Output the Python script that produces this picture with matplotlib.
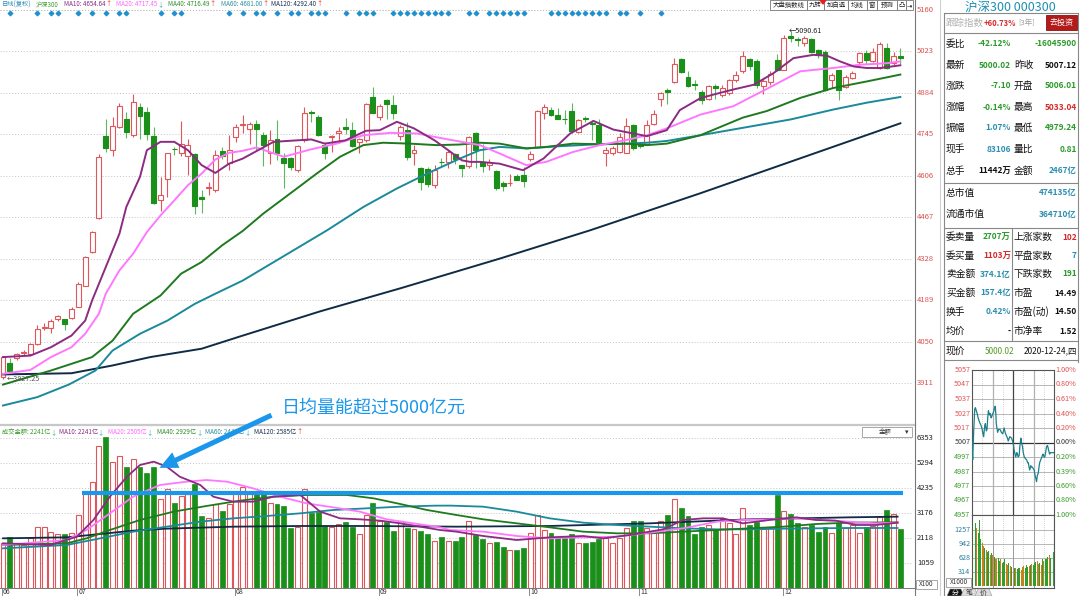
import matplotlib
matplotlib.use('Agg')
import matplotlib.pyplot as plt
from matplotlib.patches import Rectangle, FancyArrowPatch, Polygon

plt.rcParams['font.family'] = ['Noto Sans CJK SC', 'DejaVu Sans']

# 沪深300 daily bars, 2020-06-12 .. 2020-12-24
opens = [3932, 3978, 3997, 4013, 4010, 4043, 4097, 4097, 4126, 4126,
         4129, 4168, 4238, 4350, 4465, 4738, 4693, 4769, 4795, 4741,
         4834, 4819, 4739, 4523, 4596, 4696, 4682, 4671, 4678, 4535,
         4563, 4559, 4689, 4648, 4736, 4776, 4762, 4777, 4741, 4682,
         4728, 4665, 4666, 4626, 4724, 4819, 4803, 4708, 4735, 4747,
         4767, 4760, 4719, 4724, 4870, 4802, 4858, 4842, 4738, 4758,
         4683, 4633, 4629, 4573, 4653, 4652, 4678, 4641, 4637, 4749,
         4652, 4641, 4622, 4582, 4581, 4606, 4607, 4663, 4702, 4814,
         4827, 4808, 4796, 4822, 4752, 4800, 4781, 4775, 4682, 4680,
         4685, 4682, 4775, 4710, 4713, 4780, 4861, 4894, 4918, 4995,
         4937, 4914, 4886, 4862, 4906, 4877, 4881, 4927, 4955, 4996,
         4991, 4907, 4918, 4994, 4960, 5073, 5062, 5049, 5062, 5027,
         5021, 4927, 4958, 4903, 4933, 4985, 5016, 4988, 4966, 5032,
         4982, 5006.01]
highs = [4003, 3996, 4013, 4022, 4046, 4107, 4112, 4125, 4141, 4128,
         4165, 4250, 4337, 4420, 4678, 4794, 4803, 4850, 4819, 4879,
         4850, 4836, 4769, 4601, 4681, 4702, 4789, 4730, 4680, 4557,
         4585, 4691, 4702, 4741, 4777, 4808, 4786, 4791, 4752, 4758,
         4791, 4680, 4669, 4708, 4836, 4825, 4808, 4719, 4741, 4769,
         4800, 4786, 4733, 4850, 4901, 4847, 4861, 4875, 4775, 4786,
         4708, 4635, 4635, 4641, 4666, 4691, 4682, 4641, 4740, 4752,
         4713, 4663, 4624, 4588, 4611, 4613, 4635, 4689, 4825, 4845,
         4836, 4833, 4825, 4850, 4797, 4805, 4792, 4797, 4702, 4704,
         4749, 4800, 4778, 4713, 4791, 4825, 4886, 4898, 4998, 4998,
         4957, 4925, 4893, 4910, 4911, 4910, 4930, 4955, 5022, 5000,
         4995, 4932, 4955, 5012, 5075, 5090.61, 5070, 5072, 5068, 5030,
         5025, 4950, 4960, 4941, 4955, 5020, 5025, 5033, 5052, 5050,
         5020, 5033.04]
lows = [3927.25, 3950, 3990, 4003, 4005, 4040, 4090, 4080, 4120, 4090,
        4127, 4165, 4236, 4348, 4460, 4685, 4671, 4765, 4733, 4735,
        4727, 4724, 4512, 4487, 4535, 4674, 4671, 4607, 4479, 4481,
        4540, 4551, 4663, 4624, 4719, 4747, 4711, 4691, 4637, 4646,
        4657, 4565, 4624, 4618, 4719, 4786, 4738, 4663, 4685, 4716,
        4744, 4702, 4680, 4719, 4814, 4791, 4797, 4797, 4724, 4657,
        4641, 4557, 4568, 4563, 4635, 4630, 4646, 4602, 4630, 4630,
        4618, 4624, 4559, 4555, 4570, 4590, 4568, 4655, 4700, 4797,
        4805, 4794, 4778, 4747, 4749, 4786, 4725, 4713, 4637, 4674,
        4680, 4680, 4693, 4697, 4711, 4775, 4838, 4847, 4917, 4948,
        4903, 4892, 4845, 4858, 4861, 4870, 4876, 4920, 4950, 4960,
        4900, 4880, 4910, 4955, 4958, 5052, 5040, 5040, 5015, 5000,
        4888, 4900, 4860, 4898, 4928, 4970, 4980, 4985, 4962, 4962,
        4975, 4979.24]
closes = [3999, 3954, 4010, 4016, 4043, 4093, 4100, 4121, 4137, 4108,
          4160, 4244, 4334, 4417, 4669, 4697, 4771, 4838, 4752, 4852,
          4806, 4745, 4515, 4542, 4680, 4694, 4711, 4710, 4504, 4528,
          4567, 4676, 4671, 4693, 4769, 4778, 4777, 4762, 4708, 4724,
          4682, 4649, 4635, 4704, 4814, 4815, 4741, 4680, 4737, 4755,
          4761, 4705, 4730, 4844, 4816, 4839, 4844, 4817, 4767, 4669,
          4693, 4585, 4579, 4626, 4652, 4685, 4660, 4633, 4736, 4691,
          4637, 4652, 4563, 4570, 4582, 4593, 4587, 4677, 4822, 4836,
          4808, 4797, 4795, 4756, 4791, 4794, 4779, 4719, 4691, 4697,
          4736, 4771, 4697, 4704, 4775, 4812, 4883, 4886, 4981, 4953,
          4905, 4909, 4858, 4905, 4900, 4899, 4927, 4944, 5007, 4974,
          4910, 4922, 4947, 4960, 5066, 5065, 5058, 5066, 5021, 5010,
          4892, 4944, 4892, 4936, 4949, 5016, 4994, 5021, 5047, 4966,
          5007.12, 5000.02]
# 成交金额 (亿)
amounts = [1920, 2146, 1920, 1822, 2104, 2570, 2598, 2386, 2288, 2288,
           2316, 3092, 4010, 4504, 6015, 6382, 5352, 5592, 5140, 5450,
           5140, 4886, 5140, 3756, 4180, 3587, 3897, 3982, 4406, 3050,
           2951, 3558, 3276, 3558, 4010, 4293, 4081, 4010, 4038, 3615,
           3558, 3474, 2528, 2570, 4180, 3191, 3234, 2627, 2598, 2711,
           2810, 2570, 2288, 3092, 3615, 2852, 2810, 2429, 2852, 2528,
           2485, 2429, 2288, 2005, 2146, 2005, 2005, 2175, 2852, 2245,
           2062, 1920, 1935, 1723, 1610, 1610, 1680, 2316, 3092, 2457,
           2316, 2175, 2146, 2288, 1892, 1920, 1963, 2062, 2104, 1892,
           2104, 2528, 2852, 2852, 2528, 2316, 2852, 3092, 3756, 3375,
           3050, 2288, 2570, 2669, 2485, 2909, 2768, 2288, 3375, 2669,
           2810, 2528, 2598, 3940, 3276, 3135, 2768, 2598, 2669, 2386,
           2598, 2316, 2739, 2528, 2669, 2316, 2598, 2627, 2993, 3304,
           3135, 2499]

month_labels = ['06', '07', '08', '09', '10', '11', '12']
month_start = [0, 11, 34, 55, 77, 93, 114]
price_ticks = [5160, 5023, 4884, 4745, 4606, 4467, 4328, 4189, 4050, 3911]
amount_ticks = [6353, 5294, 4235, 3176, 2118, 1059]
signal_days = [1, 5, 7, 8, 11, 13, 15, 17, 18, 23, 25, 26, 33, 35, 37, 38, 40, 42, 43,
               45, 46, 47, 50, 52, 53, 54, 57, 58, 59, 60, 61, 62, 63, 64, 65, 68, 69,
               71, 72, 73, 74, 75, 76, 80, 81, 82, 83, 84, 85, 86, 87, 88, 90, 91, 93, 96]

# moving averages (bar index, value)
ma10_x = [0, 4, 7, 10, 12, 13, 15, 17, 18, 20, 21, 23, 25, 27, 29, 31, 33, 35, 39.5, 45,
          47, 50, 53, 55, 57.5, 60, 63, 65, 67, 68.2, 69.6, 72.5, 75.9, 78.9, 82.8, 86.2,
          89.1, 92, 94, 96.9, 98.8, 101.8, 103.7, 106.6, 109.6, 112.5, 115.4, 118.3,
          120.3, 122.2, 124.2, 126.1, 128.1, 131]
ma10_y = [3999, 4004, 4032, 4071, 4121, 4188, 4300, 4412, 4501, 4602, 4691, 4719, 4719,
          4691, 4641, 4615, 4646, 4663, 4719, 4727, 4713, 4724, 4756, 4758, 4786, 4764,
          4724, 4691, 4657, 4652, 4652, 4646, 4624, 4663, 4747, 4789, 4760, 4747, 4738,
          4758, 4825, 4865, 4877, 4894, 4910, 4949, 4999, 5010, 5007, 4988, 4971, 4966,
          4966, 4975]
ma20_x = [0, 4, 7, 10, 12, 14, 15, 17, 19, 21, 23, 25, 27, 29, 31, 33, 35, 37, 41, 44.8,
          48.7, 52.6, 56.5, 60.4, 64.3, 66.7, 69.6, 72.5, 76.4, 79.3, 83.2, 87.1, 91, 94,
          96.9, 101.8, 106.6, 111.5, 116.4, 121.2, 125.1, 129, 131]
ma20_y = [3943, 3956, 3999, 4032, 4077, 4144, 4211, 4289, 4345, 4417, 4473, 4523, 4574,
          4613, 4660, 4682, 4689, 4700, 4669, 4693, 4713, 4741, 4749, 4747, 4730, 4720,
          4708, 4680, 4641, 4652, 4685, 4708, 4725, 4741, 4764, 4810, 4838, 4896, 4955,
          4966, 4977, 4982, 4988]
ma40_x = [0, 7, 13, 16, 19, 23, 26, 29, 32, 35, 38, 42.9, 45.8, 49.2, 52.6, 55.5, 59.4,
          63.3, 66.7, 69.6, 72.5, 76.4, 79.3, 83.2, 87.1, 91, 94, 96.9, 101.8, 108, 111.5,
          116.4, 121.2, 126.1, 131]
ma40_y = [3907, 3954, 3999, 4054, 4144, 4205, 4278, 4317, 4373, 4421, 4479, 4563, 4613,
          4669, 4708, 4716, 4713, 4708, 4710, 4716, 4713, 4697, 4702, 4713, 4711, 4713,
          4708, 4713, 4741, 4800, 4822, 4866, 4899, 4921, 4944]
ma60_x = [0, 5, 9.6, 13.5, 16, 20, 24, 28, 31, 35, 47.3, 52.6, 57.5, 62.4, 66.7, 69.6,
          72.5, 76.4, 81, 86, 91, 94, 96.9, 101.8, 115, 121.2, 126.1, 131]
ma60_y = [3837, 3865, 3907, 3954, 4021, 4077, 4121, 4177, 4211, 4255, 4423, 4501, 4563,
          4618, 4663, 4691, 4702, 4697, 4704, 4710, 4713, 4716, 4722, 4741, 4794, 4827,
          4850, 4869]
ma120_x = [0, 10, 16, 21.5, 29, 34.6, 46.3, 58, 72.6, 85.7, 101.8, 116.4, 131]
ma120_y = [3941, 3945, 3971, 3999, 4027, 4068, 4152, 4229, 4329, 4423, 4547, 4664, 4781]

vma10_x = [0, 6.9, 10.8, 13.2, 15.6, 18.1, 20, 22, 23.9, 25.8, 28.8, 30.7, 33.6, 36.5,
           39.5, 43.4, 46.3, 49.2, 52.1, 55.1, 58, 60.9, 63.8, 66.2, 70.1, 75, 79.8, 84.7,
           87.6, 91.5, 96.4, 99.3, 102.2, 105.1, 108, 111.9, 115.8, 118.7, 121.6, 124.5,
           127.4, 130.6]
vma10_y = [1892, 1822, 2175, 2881, 3869, 4716, 5210, 5352, 5140, 4716, 4363, 3869, 3657,
           3657, 3869, 3940, 3234, 2951, 2909, 2852, 2739, 2598, 2457, 2386, 2203, 2033,
           2146, 2203, 2104, 2245, 2485, 2881, 2951, 2951, 2739, 2881, 2993, 2881, 2852,
           2669, 2669, 2768]
vma20_x = [0, 9.3, 12.2, 15.6, 19, 22.9, 26.8, 29.7, 32.7, 36.5, 40.4, 44.3, 48.2, 52.1,
           56, 59.9, 63.8, 65.3, 70.1, 75, 79.8, 84.7, 89.6, 94.4, 99.3, 104.2, 108, 111.9,
           115.8, 119.7, 123.5, 127.4, 130.6]
vma20_y = [1822, 2033, 2457, 3163, 3869, 4363, 4504, 4575, 4504, 4222, 3869, 3587, 3417,
           3234, 2909, 2739, 2570, 2457, 2386, 2203, 2104, 2146, 2175, 2344, 2528, 2810,
           2881, 2909, 2951, 2881, 2810, 2739, 2768]
vma40_x = [0, 9.3, 12.2, 15.6, 20, 24.9, 29.7, 34.6, 39.5, 44.3, 50.2, 54.1, 58, 61.9,
           66.2, 70.1, 75, 79.8, 84.7, 89.6, 94.4, 99.3, 104.2, 109, 113.9, 118.7, 123.5,
           130.6]
vma40_y = [1822, 1892, 2104, 2457, 2881, 3234, 3474, 3700, 3869, 3940, 3940, 3798, 3558,
           3304, 3092, 2909, 2739, 2570, 2386, 2316, 2316, 2386, 2457, 2528, 2598, 2711,
           2768, 2782]
vma60_x = [0, 9.3, 14.2, 19, 23.9, 28.8, 33.6, 38.5, 43.4, 48.2, 53.1, 58, 62.9, 65.3,
           70.1, 75, 79.8, 84.7, 89.6, 94.4, 99.3, 104.2, 109, 113.9, 118.7, 123.5, 130.6]
vma60_y = [1680, 1822, 2104, 2386, 2598, 2810, 2951, 3050, 3163, 3304, 3375, 3445, 3488,
           3490, 3445, 3234, 2951, 2768, 2669, 2598, 2528, 2485, 2485, 2514, 2528, 2542,
           2542]
vma120_x = [0, 9.3, 14.2, 19, 23.9, 33.6, 43.4, 53.1, 66.2, 79.8, 94.4, 109, 123.5, 130.6]
vma120_y = [2104, 2146, 2288, 2429, 2514, 2598, 2627, 2627, 2598, 2627, 2739, 2909, 2993,
            3022]

level_line = 4010  # 日均量能 line
level_from, level_to = 11.5, 131.4

price_header = [('日线(复权)', '#2a8fb8', ''), ('沪深300', '#3a9a2a', ''),
                ('MA10: 4654.64', '#8b2c82', '↑'), ('MA20: 4717.45', '#ff66ff', '↓'),
                ('MA40: 4716.49', '#2e8b2e', '↑'), ('MA60: 4681.00', '#2a8fa0', '↑'),
                ('MA120: 4292.40', '#1a3050', '↑')]
price_header_x = [0, 36, 64, 116, 168, 221, 271]
amount_header = [('成交金额: 2241亿', '#3a9a2a', '↓'), ('MA10: 2241亿', '#8b2c82', '↓'),
                 ('MA20: 2505亿', '#ff66ff', '↓'), ('MA40: 2929亿', '#2e8b2e', '↓'),
                 ('MA60: 2442亿', '#2a8fa0', '↓'), ('MA120: 2585亿', '#1a3050', '↑')]
amount_header_x = [0, 58, 108, 157, 205, 254]
buttons = ['大盘指数线', '九转', '加自选', '均线', '窗', '预测', '凸', '⇥']
button_edges = [770, 807, 824, 848, 867, 877, 897, 906, 913]

G, R, B, K = '#2a9a2a', '#d42a2a', '#2a8fb0', '#111111'
quote_rows = [
    (44, '委比', '-42.12%', G, '', '-16045900', G),
    (65, '最新', '5000.02', G, '昨收', '5007.12', K),
    (86, '涨跌', '-7.10', G, '开盘', '5006.01', G),
    (107, '涨幅', '-0.14%', G, '最高', '5033.04', R),
    (128, '振幅', '1.07%', B, '最低', '4979.24', G),
    (149, '现手', '83106', B, '量比', '0.81', G),
    (171, '总手', '11442万', K, '金额', '2467亿', B),
    (193, '总市值', '', K, '', '474135亿', B),
    (214, '流通市值', '', K, '', '364710亿', B),
    (237, '委卖量', '2707万', G, '上涨家数', '102', R),
    (256, '委买量', '1103万', R, '平盘家数', '7', B),
    (274, '卖金额', '374.1亿', B, '下跌家数', '191', G),
    (293, '买金额', '157.4亿', B, '市盈', '14.49', K),
    (312, '换手', '0.42%', B, '市盈(动)', '14.50', K),
    (331, '均价', '-', K, '市净率', '1.52', K),
]

# intraday 2020-12-24
intra_min = [0, 2, 5, 8, 10, 15, 18, 22, 26, 29, 32, 34, 37, 39, 42, 44, 46, 48, 51, 53,
             56, 58, 61, 63, 66, 68, 70, 71, 73, 75, 78, 82, 86, 90, 94, 97, 100, 104, 106,
             109, 111, 116, 121, 123, 126, 128, 131, 133, 135, 138, 140, 143, 145, 148, 150,
             153, 156, 160, 163, 165, 167, 169, 172, 174, 177, 179, 182, 184, 187, 189, 191,
             194, 196, 198, 201, 203, 206, 208, 211, 213, 216, 218, 221, 223, 225, 227, 230,
             232, 237, 240]
intra_px = [5006, 4995, 5015, 5030, 5031, 5027, 5024, 5021, 5019, 5017, 5013, 5011, 5018,
            5020, 5015, 5016, 5024, 5029, 5026, 5027, 5024, 5025, 5027, 5028, 5031, 5032,
            5026, 5020, 5017, 5014, 5016, 5016, 5014, 5013, 5017, 5014, 5012, 5010, 5008,
            5010, 5011, 5010, 5006, 5002, 4999, 4997, 5000, 4999, 4997, 4998, 5004, 5010,
            5007, 5004, 5000, 4997, 4996, 4995, 4993, 4993, 4990, 4988, 4991, 4990, 4990,
            4989, 4988, 4985, 4982, 4980, 4984, 4986, 4990, 4993, 4995, 4996, 4998, 4999,
            4997, 4997, 5001, 5004, 5005, 5003, 5001, 4999, 5000, 5000, 5000, 5000]
intra_vol = [760, 1190, 1410, 1300, 1190, 1480, 1050, 970, 900, 860, 820, 760, 780, 700,
             740, 690, 650, 620, 600, 640, 560, 600, 520, 540, 600, 500, 470, 520, 450, 430,
             480, 420, 400, 380, 420, 410, 360, 430, 450, 420, 470, 440, 460, 480, 500, 470,
             520, 540, 560, 500, 520, 480, 600, 560, 620, 600, 650, 700, 640, 680, 760]
intra_side = 'gogogggoogoggogogooggogggoogogogogggooogggogogggoogogogggogog'
intra_px_ticks = [5057, 5047, 5037, 5027, 5017, 5007, 4997, 4987, 4977, 4967, 4957]
intra_pct = ['1.00%', '0.80%', '0.61%', '0.40%', '0.20%', '0.00%', '0.20%', '0.39%',
             '0.60%', '0.80%', '1.00%']
intra_vol_ticks = [1257, 942, 628, 314]
prev_close = 5007

RED, GRN, GRN_W = '#e0575b', '#1a8f1a', '#5cb85c'
C10, C20, C40, C60, C120 = '#8b2c82', '#ff77ff', '#1f7a1f', '#1a8a9a', '#0f2b45'
ANNO = '#1a96ea'

W, H = 1080, 596
BAR = 6.85
XL = (-3 / BAR, 910 / BAR)

fig = plt.figure(figsize=(W / 100, H / 100), dpi=100)
fig.patch.set_facecolor('white')


def box(x0, y0, x1, y1):
    return [x0 / W, 1 - y1 / H, (x1 - x0) / W, (y1 - y0) / H]


# ---------------- price panel
ax = fig.add_axes(box(0, 8, 913, 420))
ax.set_xlim(*XL)
ax.set_ylim(5160 - 410 * 3.345, 5160 + 2 * 3.345)
ax.axis('off')
for p in price_ticks:
    ax.axhline(p, color='#c4c4c4', lw=0.7, ls=(0, (1, 2)), zorder=0)
    ax.text(XL[1] + 4 / BAR, p, str(p), fontsize=5.5, color='#d9534f', va='center', ha='left')

for i, (o, h, l, c) in enumerate(zip(opens, highs, lows, closes)):
    h, l = max(h, o, c), min(l, o, c)
    top, bot = max(o, c), min(o, c)
    if c >= o:
        ec, fc, wc = RED, 'white', RED
    else:
        ec, fc, wc = GRN, GRN, GRN_W
    ax.vlines(i, top, h, color=wc, lw=0.8, zorder=2)
    ax.vlines(i, l, bot, color=wc, lw=0.8, zorder=2)
    ax.add_patch(Rectangle((i - 0.36, bot), 0.72, max(top - bot, 1.2),
                           facecolor=fc, edgecolor=ec, lw=0.8, zorder=2))

for xs, ys, col in [(ma120_x, ma120_y, C120), (ma60_x, ma60_y, C60), (ma40_x, ma40_y, C40),
                    (ma20_x, ma20_y, C20), (ma10_x, ma10_y, C10)]:
    ax.plot(xs, ys, color=col, lw=1.4, zorder=3)

ax.scatter(signal_days, [0.988] * len(signal_days), marker='D', s=5, color='#1e90d0',
           transform=ax.get_xaxis_transform(), zorder=4, clip_on=False)
ax.axhline(5160, color='#bbbbbb', lw=0.7, ls=(0, (1, 2)), zorder=0)

hi_i = highs.index(max(highs))
ax.text(hi_i - 0.3, max(highs), '←%.2f' % max(highs), fontsize=5.2, color='#222', va='center')
lo_i = lows.index(min(lows))
ax.text(lo_i + 0.6, min(lows), '←%.2f' % min(lows), fontsize=5.2, color='#555', va='center')

# ---------------- amount panel
vax = fig.add_axes(box(0, 436, 913, 588))
vax.set_xlim(*XL)
vax.set_ylim(0, 152 * 42.36)
vax.axis('off')
for v in amount_ticks:
    vax.axhline(v, color='#c4c4c4', lw=0.7, ls=(0, (1, 2)), zorder=0)
    vax.text(XL[1] + 4 / BAR, v, str(v), fontsize=5.5, color='#222', va='center', ha='left')
for i, (o, c, a) in enumerate(zip(opens, closes, amounts)):
    if c >= o:
        vax.add_patch(Rectangle((i - 0.36, 0), 0.72, a, facecolor='white', edgecolor=RED,
                                lw=0.8, zorder=2))
    else:
        vax.add_patch(Rectangle((i - 0.36, 0), 0.72, a, facecolor=GRN, edgecolor=GRN,
                                lw=0.5, zorder=2))
for xs, ys, col in [(vma120_x, vma120_y, C120), (vma60_x, vma60_y, C60),
                    (vma40_x, vma40_y, C40), (vma20_x, vma20_y, C20),
                    (vma10_x, vma10_y, C10)]:
    vax.plot(xs, ys, color=col, lw=1.3, zorder=3)
vax.plot([level_from, level_to], [level_line, level_line], color=ANNO, lw=3,
         solid_capstyle='butt', zorder=5)

# ---------------- intraday panel
iax = fig.add_axes(box(972, 370, 1054, 515))
iax.set_xlim(0, 240)
iax.set_ylim(4957, 5057)
iax.set_xticks([])
iax.set_yticks([])
for s in iax.spines.values():
    s.set_color('#555')
    s.set_linewidth(0.8)
for p in intra_px_ticks[1:-1]:
    iax.axhline(p, color='#333' if p == prev_close else '#9a9a9a',
                lw=0.9 if p == prev_close else 0.5, zorder=0)
for m in [30, 90, 150, 210]:
    iax.axvline(m, color='#aaaaaa', lw=0.5, ls=(0, (1, 2)), zorder=0)
for m in [60, 180]:
    iax.axvline(m, color='#b0b0b0', lw=0.9, zorder=0)
iax.axvline(120, color='#444', lw=0.9, zorder=0)
iax.plot(intra_min, intra_px, color='#1b7f8c', lw=0.9, zorder=3)
for p, pct in zip(intra_px_ticks, intra_pct):
    col = '#e05050' if p > prev_close else ('#333' if p == prev_close else '#3a9a2a')
    iax.text(-5, p, str(p), fontsize=5.2, color=col, ha='right', va='center')
    iax.text(245, p, pct, fontsize=5.2, color=col, ha='left', va='center')

ivax = fig.add_axes(box(972, 515, 1054, 588))
ivax.set_xlim(0, 240)
ivax.set_ylim(-36, 1592)
ivax.set_xticks([])
ivax.set_yticks([])
for s in ivax.spines.values():
    s.set_color('#555')
    s.set_linewidth(0.8)
for v in intra_vol_ticks:
    ivax.axhline(v, color='#9a9a9a', lw=0.5, zorder=0)
    ivax.text(-5, v, str(v), fontsize=5.2, color='#2a7fa0', ha='right', va='center')
for m in [30, 90, 150, 210]:
    ivax.axvline(m, color='#aaaaaa', lw=0.5, ls=(0, (1, 2)), zorder=0)
for m in [60, 120, 180]:
    ivax.axvline(m, color='#999', lw=0.7, zorder=0)
step = 240 / len(intra_vol)
ivax.bar([k * step + step / 2 for k in range(len(intra_vol))], intra_vol, width=step * 0.7,
         color=['#2e9e2e' if s == 'g' else '#c8801e' for s in intra_side[:len(intra_vol)]],
         zorder=2)
ivax.axvline(239, color='#7fd07f', lw=0.8)

# ---------------- overlay: frame, texts, annotation
ov = fig.add_axes([0, 0, 1, 1])
ov.set_xlim(0, W)
ov.set_ylim(H, 0)
ov.axis('off')
ov.patch.set_visible(False)
ov.set_zorder(10)
renderer = fig.canvas.get_renderer()


def header(items, xs, y, size=4.5):
    end = 0
    for (s, col, arr), x in zip(items, xs):
        x = max(x, end + 2)
        t = ov.text(x, y, s, color=col, fontsize=size, va='center', ha='left', zorder=3)
        end = x + t.get_window_extent(renderer).width
        if arr:
            a = ov.text(end, y, arr, fontsize=size, va='center', ha='left', zorder=3,
                        color='#e03030' if arr == '↑' else '#2ab0a0')
            end += a.get_window_extent(renderer).width


header(price_header, price_header_x, 4.5)
header(amount_header, amount_header_x, 432)

for lab, x0, x1 in zip(buttons, button_edges[:-1], button_edges[1:]):
    ov.add_patch(Rectangle((x0, 0), x1 - x0, 10, facecolor='white', edgecolor='#777', lw=0.6))
    ov.text((x0 + x1) / 2, 5, lab, fontsize=4.6, ha='center', va='center', color='#222')
ov.add_patch(Polygon([(820, 0), (826, 0), (823, 4)], closed=True, color='#e02020'))

# panel separators
ov.plot([0, 915], [425, 425], color='#c8c8c8', lw=1.6)
ov.plot([0, 915], [588, 588], color='#777', lw=0.7)
ov.plot([915, 915], [0, H], color='#777', lw=0.8)
ov.plot([940, 940], [0, H], color='#d0d0d0', lw=0.8)
ov.plot([944, 944], [13, H], color='#888', lw=0.8)
ov.plot([1078, 1078], [13, 362], color='#888', lw=0.8)
for y in [13, 33, 183, 228, 341, 360]:
    ov.plot([944, 1078], [y, y], color='#888', lw=0.8)
ov.plot([1012, 1012], [228, 341], color='#888', lw=0.8)

ov.add_patch(Rectangle((862, 427), 50, 10, facecolor='white', edgecolor='#999', lw=0.6))
ov.text(885, 432, '金额', fontsize=4.6, ha='center', va='center', color='#333')
ov.text(907, 432, '▾', fontsize=5, ha='center', va='center', color='#333')

ov.add_patch(Rectangle((916, 580), 21, 9, facecolor='white', edgecolor='#999', lw=0.6))
ov.text(926.5, 584.5, 'X100', fontsize=4.6, ha='center', va='center', color='#333')

for lab, i in zip(month_labels, month_start):
    x = 3 + i * BAR
    ov.plot([x - 1, x - 1], [588, 596], color='#777', lw=0.6)
    ov.text(x, 592.5, lab, fontsize=5, ha='left', va='center', color='#333')

# annotation
ov.add_patch(FancyArrowPatch((274, 414), (157, 469),
                             arrowstyle='simple,head_length=1.0,head_width=0.95,tail_width=0.28',
                             mutation_scale=13, color=ANNO, lw=0, zorder=6))
ov.text(282, 408, '日均量能超过5000亿元', fontsize=13, color=ANNO, va='center', ha='left',
        zorder=6)

# right info panel
ov.text(1010, 7, '沪深300 000300', fontsize=9, color='#1e8fb4', ha='center', va='center')
ov.text(946, 23, '跟踪指数', fontsize=6.8, color='#b0b0b0', va='center')
ov.text(984, 23, '+60.73%', fontsize=5.5, color='#d42a2a', va='center', weight='bold')
ov.text(1018, 23, '[3年]', fontsize=5.5, color='#a0a0a0', va='center')
ov.add_patch(Rectangle((1046, 15), 31, 15, facecolor='#b31b1b', edgecolor='#8a1010', lw=0.6))
ov.text(1061.5, 22.5, '去投资', fontsize=5.8, color='white', ha='center', va='center')

for y, l1, v1, c1, l2, v2, c2 in quote_rows:
    ov.text(946, y, l1, fontsize=7, color=K, va='center')
    if v1:
        ov.text(1011, y, v1, fontsize=6, color=c1, va='center', ha='right', weight='bold')
    if l2:
        ov.text(1014, y, l2, fontsize=7, color=K, va='center')
    ov.text(1077, y, v2, fontsize=6, color=c2, va='center', ha='right', weight='bold')

ov.text(946, 351, '现价', fontsize=7, color=K, va='center')
ov.text(985, 351, '5000.02', fontsize=6, color='#5a9a2a', va='center')
ov.text(1077, 351, '2020-12-24,四', fontsize=6, color=K, va='center', ha='right')

ov.add_patch(Rectangle((946, 578), 25, 9, facecolor='white', edgecolor='#999', lw=0.6))
ov.text(958.5, 582.5, 'X1000', fontsize=4.6, ha='center', va='center', color='#333')
for k, (lab, fc, tc) in enumerate([('分', '#111', 'white'), ('笔', '#dddddd', '#333'),
                                   ('价', '#dddddd', '#333')]):
    x0 = 947 + k * 14
    ov.add_patch(Polygon([(x0, 596), (x0 + 3, 589), (x0 + 14, 589), (x0 + 17, 596)],
                         closed=True, facecolor=fc, edgecolor='#999', lw=0.4))
    ov.text(x0 + 8.5, 592.8, lab, fontsize=5, color=tc, ha='center', va='center')

fig.savefig('out.png', dpi=100)
